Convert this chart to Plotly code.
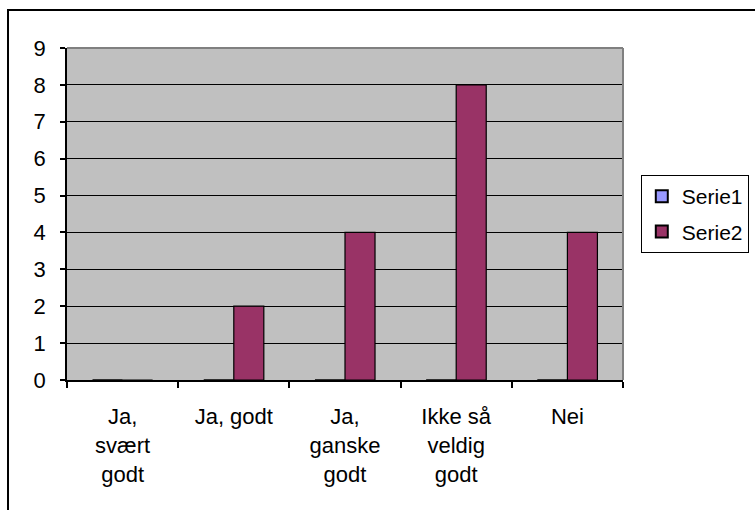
import plotly.graph_objects as go

# Survey answers and counts per series
categories = ["Ja,<br>svært<br>godt", "Ja, godt", "Ja,<br>ganske<br>godt",
              "Ikke så<br>veldig<br>godt", "Nei"]
serie1 = [0, 0, 0, 0, 0]
serie2 = [0, 2, 4, 8, 4]
y_ticks = list(range(0, 10))

FONT = "Liberation Sans, Arial, sans-serif"
FS = 22

fig = go.Figure()
fig.add_trace(go.Bar(
    x=categories, y=serie1, name="Serie1", legendgroup="s1",
    marker=dict(color="#9999FF", line=dict(color="black", width=1)),
))
fig.add_trace(go.Bar(
    x=categories, y=serie2, name="Serie2", legendgroup="s2",
    marker=dict(color="#993366", line=dict(color="black", width=1.2)),
))

# Frame: outer chart border (top/left visible) and plot-area top/right edges
fig.add_shape(type="rect", xref="paper", yref="paper",
              x0=-0.1061, y0=-0.6, x1=1.5, y1=1.1145,
              line=dict(color="black", width=2), layer="above")
fig.add_shape(type="line", xref="paper", yref="paper",
              x0=0, y0=1, x1=1, y1=1,
              line=dict(color="#808080", width=2), layer="above")
fig.add_shape(type="line", xref="paper", yref="paper",
              x0=1, y0=0, x1=1, y1=1,
              line=dict(color="#808080", width=2), layer="above")

fig.update_layout(
    width=755, height=510,
    margin=dict(l=67, r=132, t=48, b=130, autoexpand=False),
    paper_bgcolor="white", plot_bgcolor="#C0C0C0",
    barmode="group", bargap=0.46, bargroupgap=0.0,
    font=dict(family=FONT, size=FS, color="black"),
    legend=dict(
        x=1.032, xanchor="left", y=0.5, yanchor="middle",
        bgcolor="white", bordercolor="black", borderwidth=1,
        font=dict(family=FONT, size=21, color="black"),
        tracegroupgap=5, itemsizing="constant", itemwidth=30,
    ),
    showlegend=True,
)
fig.update_xaxes(
    type="category", tickson="boundaries", ticks="outside", ticklen=6,
    tickcolor="black", tickwidth=1.5,
    showline=True, linecolor="black", linewidth=2,
    showgrid=False, ticklabelstandoff=16,
    tickfont=dict(family=FONT, size=FS, color="black"),
)
fig.update_yaxes(
    range=[0, 9], tickvals=y_ticks, ticks="outside", ticklen=5,
    tickcolor="black", tickwidth=1.5,
    showline=True, linecolor="black", linewidth=1.5,
    showgrid=True, gridcolor="black", gridwidth=1, zeroline=False,
    ticklabelstandoff=10,
    tickfont=dict(family=FONT, size=FS, color="black"),
)

fig.write_html("out.html")
